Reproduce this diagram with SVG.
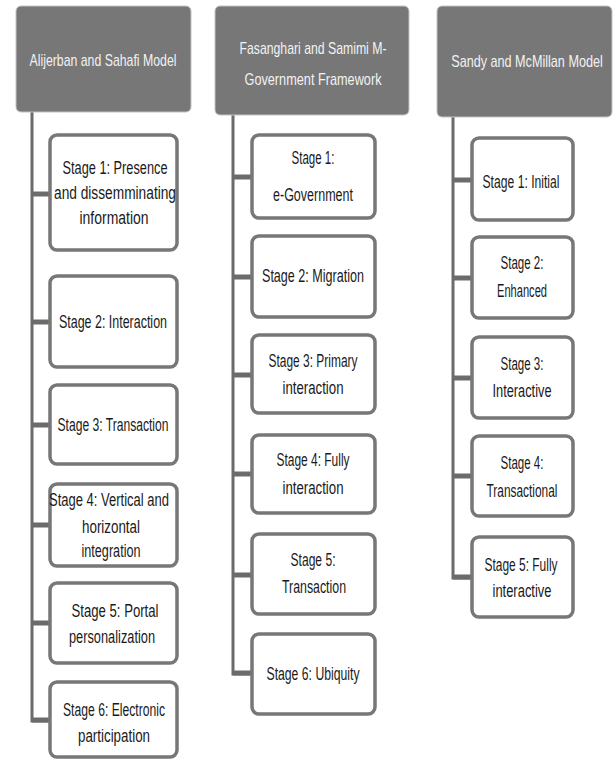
<svg xmlns="http://www.w3.org/2000/svg" width="613" height="764" viewBox="0 0 613 764">
<style>
.hdr{fill:#777777;stroke:#c4c4c4;stroke-width:1}
.box{fill:#ffffff;stroke:#777777;stroke-width:3.5}
.ht{font-family:"Liberation Sans",Arial,sans-serif;font-size:17px;fill:#f2f2f2;text-anchor:middle}
.st{font-family:"Liberation Sans",Arial,sans-serif;font-size:17.5px;fill:#1a1a1a;text-anchor:middle}
.vl{stroke:#6b6b6b;stroke-width:3;fill:none}
.stub{stroke:#6b6b6b;stroke-width:5;fill:none}
</style>
<rect width="613" height="764" fill="#ffffff"/>
<g id="connectors">
<path class="vl" d="M32 112 V721 H50"/>
<line class="stub" x1="32" y1="194" x2="50" y2="194"/>
<line class="stub" x1="32" y1="322" x2="50" y2="322"/>
<line class="stub" x1="32" y1="425" x2="50" y2="425"/>
<line class="stub" x1="32" y1="525" x2="50" y2="525"/>
<line class="stub" x1="32" y1="623" x2="50" y2="623"/>
<line class="stub" x1="32" y1="720" x2="50" y2="720"/>
<path class="vl" d="M233 115 V674 H252"/>
<line class="stub" x1="233" y1="177" x2="252" y2="177"/>
<line class="stub" x1="233" y1="277" x2="252" y2="277"/>
<line class="stub" x1="233" y1="375" x2="252" y2="375"/>
<line class="stub" x1="233" y1="474" x2="252" y2="474"/>
<line class="stub" x1="233" y1="575" x2="252" y2="575"/>
<line class="stub" x1="233" y1="673" x2="252" y2="673"/>
<path class="vl" d="M453 117 V578 H472"/>
<line class="stub" x1="453" y1="180" x2="472" y2="180"/>
<line class="stub" x1="453" y1="278" x2="472" y2="278"/>
<line class="stub" x1="453" y1="378" x2="472" y2="378"/>
<line class="stub" x1="453" y1="476" x2="472" y2="476"/>
<line class="stub" x1="453" y1="577" x2="472" y2="577"/>
</g>
<g id="header1"><rect class="hdr" x="16" y="6" width="175" height="106" rx="5"/><text class="ht" x="103" y="66" textLength="147" lengthAdjust="spacingAndGlyphs">Alijerban and Sahafi Model</text></g>
<g id="header2"><rect class="hdr" x="215" y="6" width="194" height="109" rx="5"/><text class="ht" x="313" y="54" textLength="147" lengthAdjust="spacingAndGlyphs">Fasanghari and Samimi M-</text><text class="ht" x="313" y="85" textLength="137" lengthAdjust="spacingAndGlyphs">Government Framework</text></g>
<g id="header3"><rect class="hdr" x="437" y="6" width="175" height="111" rx="5"/><text class="ht" x="0" y="0" transform="translate(527,67) scale(0.75,1)" textLength="202" lengthAdjust="spacingAndGlyphs">Sandy and McMillan Model</text></g>

<g id="a1"><rect class="box" x="50" y="135" width="127" height="115" rx="7"/><text class="st" x="115" y="174" textLength="105" lengthAdjust="spacingAndGlyphs">Stage 1: Presence</text><text class="st" x="115" y="199" textLength="122" lengthAdjust="spacingAndGlyphs">and dissemminating</text><text class="st" x="114" y="224" textLength="69" lengthAdjust="spacingAndGlyphs">information</text></g>
<g id="a2"><rect class="box" x="50" y="276" width="127" height="91" rx="7"/><text class="st" x="113" y="328" textLength="108" lengthAdjust="spacingAndGlyphs">Stage 2: Interaction</text></g>
<g id="a3"><rect class="box" x="50" y="385" width="127" height="79" rx="7"/><text class="st" x="113" y="431" textLength="111" lengthAdjust="spacingAndGlyphs">Stage 3: Transaction</text></g>
<g id="a4"><rect class="box" x="50" y="484" width="127" height="82" rx="7"/><text class="st" x="109" y="506" textLength="120" lengthAdjust="spacingAndGlyphs">Stage 4: Vertical and</text><text class="st" x="111" y="533" textLength="58" lengthAdjust="spacingAndGlyphs">horizontal</text><text class="st" x="111" y="557" textLength="59" lengthAdjust="spacingAndGlyphs">integration</text></g>
<g id="a5"><rect class="box" x="50" y="583" width="127" height="80" rx="7"/><text class="st" x="115" y="617" textLength="87" lengthAdjust="spacingAndGlyphs">Stage 5: Portal</text><text class="st" x="112" y="643" textLength="86" lengthAdjust="spacingAndGlyphs">personalization</text></g>
<g id="a6"><rect class="box" x="50" y="682" width="127" height="75" rx="7"/><text class="st" x="114" y="716" textLength="102" lengthAdjust="spacingAndGlyphs">Stage 6: Electronic</text><text class="st" x="114" y="742" textLength="72" lengthAdjust="spacingAndGlyphs">participation</text></g>

<g id="b1"><rect class="box" x="252" y="135" width="123" height="83" rx="7"/><text class="st" x="313" y="164" textLength="43" lengthAdjust="spacingAndGlyphs">Stage 1:</text><text class="st" x="313" y="201" textLength="80" lengthAdjust="spacingAndGlyphs">e-Government</text></g>
<g id="b2"><rect class="box" x="252" y="236" width="123" height="81" rx="7"/><text class="st" x="313" y="282" textLength="102" lengthAdjust="spacingAndGlyphs">Stage 2: Migration</text></g>
<g id="b3"><rect class="box" x="252" y="335" width="123" height="78" rx="7"/><text class="st" x="313" y="367" textLength="89" lengthAdjust="spacingAndGlyphs">Stage 3: Primary</text><text class="st" x="313" y="394" textLength="61" lengthAdjust="spacingAndGlyphs">interaction</text></g>
<g id="b4"><rect class="box" x="252" y="435" width="123" height="78" rx="7"/><text class="st" x="313" y="466" textLength="73" lengthAdjust="spacingAndGlyphs">Stage 4: Fully</text><text class="st" x="313" y="494" textLength="61" lengthAdjust="spacingAndGlyphs">interaction</text></g>
<g id="b5"><rect class="box" x="252" y="534" width="123" height="80" rx="7"/><text class="st" x="313" y="566" textLength="45" lengthAdjust="spacingAndGlyphs">Stage 5:</text><text class="st" x="314" y="593" textLength="64" lengthAdjust="spacingAndGlyphs">Transaction</text></g>
<g id="b6"><rect class="box" x="252" y="634" width="123" height="80" rx="7"/><text class="st" x="313" y="680" textLength="93" lengthAdjust="spacingAndGlyphs">Stage 6: Ubiquity</text></g>

<g id="c1"><rect class="box" x="472" y="138" width="101" height="82" rx="7"/><text class="st" x="521" y="188" textLength="77" lengthAdjust="spacingAndGlyphs">Stage 1: Initial</text></g>
<g id="c2"><rect class="box" x="472" y="237" width="101" height="81" rx="7"/><text class="st" x="522" y="269" textLength="43" lengthAdjust="spacingAndGlyphs">Stage 2:</text><text class="st" x="522" y="297" textLength="50" lengthAdjust="spacingAndGlyphs">Enhanced</text></g>
<g id="c3"><rect class="box" x="472" y="337" width="101" height="81" rx="7"/><text class="st" x="522" y="370" textLength="43" lengthAdjust="spacingAndGlyphs">Stage 3:</text><text class="st" x="522" y="397" textLength="59" lengthAdjust="spacingAndGlyphs">Interactive</text></g>
<g id="c4"><rect class="box" x="472" y="436" width="101" height="80" rx="7"/><text class="st" x="522" y="469" textLength="43" lengthAdjust="spacingAndGlyphs">Stage 4:</text><text class="st" x="522" y="497" textLength="71" lengthAdjust="spacingAndGlyphs">Transactional</text></g>
<g id="c5"><rect class="box" x="472" y="537" width="101" height="80" rx="7"/><text class="st" x="521" y="571" textLength="73" lengthAdjust="spacingAndGlyphs">Stage 5: Fully</text><text class="st" x="522" y="597" textLength="59" lengthAdjust="spacingAndGlyphs">interactive</text></g>
</svg>
